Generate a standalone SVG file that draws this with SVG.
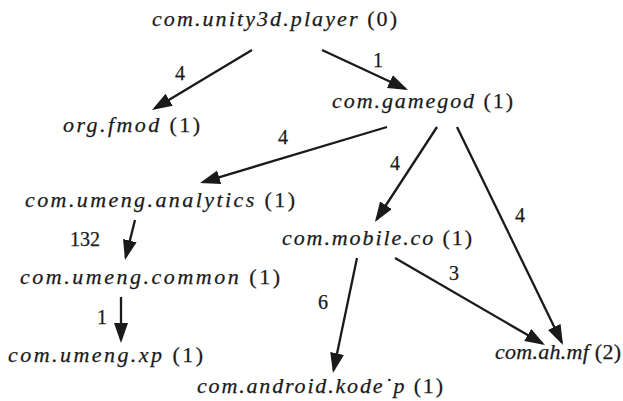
<svg xmlns="http://www.w3.org/2000/svg" width="623" height="401" viewBox="0 0 623 401">
<style>
  text { font-family: 'Liberation Serif', 'Times New Roman', serif; font-size: 22px; fill: #1a1a1a; stroke: #1a1a1a; stroke-width: 0.25; }
  .it { font-style: italic; }
  .lbl { font-size: 20px; text-anchor: middle; }
  .edge { stroke: #1a1a1a; stroke-width: 2.3; fill: none; marker-end: url(#arr); }
</style>
<defs>
  <marker id="arr" markerUnits="userSpaceOnUse" markerWidth="22" markerHeight="16" refX="17" refY="7" orient="auto">
    <path d="M0,0 L20,7 L0,14 Z" fill="#1a1a1a"/>
  </marker>
</defs>
<rect width="623" height="401" fill="#ffffff"/>
<g id="connectors">
  <line class="edge" x1="252" y1="50" x2="154.6" y2="108.5"/>
  <line class="edge" x1="322" y1="50" x2="405.3" y2="88.7"/>
  <line class="edge" x1="387" y1="127" x2="202.9" y2="182.1"/>
  <line class="edge" x1="437" y1="127" x2="376.6" y2="219.5"/>
  <line class="edge" x1="457" y1="127" x2="561.7" y2="342.3"/>
  <line class="edge" x1="135" y1="220" x2="125.7" y2="257.1"/>
  <line class="edge" x1="121" y1="297" x2="121" y2="340"/>
  <line class="edge" x1="357" y1="258" x2="333.6" y2="370.1"/>
  <line class="edge" x1="395" y1="258" x2="542.4" y2="343.5"/>
  <text class="lbl" x="180" y="80">4</text>
  <text class="lbl" x="378" y="67">1</text>
  <text class="lbl" x="283" y="144">4</text>
  <text class="lbl" x="395" y="170">4</text>
  <text class="lbl" x="520" y="222">4</text>
  <text class="lbl" x="85" y="246">132</text>
  <text class="lbl" x="102" y="324">1</text>
  <text class="lbl" x="323" y="309">6</text>
  <text class="lbl" x="454" y="280">3</text>
</g>
<g id="n-unity"><text x="152" y="26" textLength="245" lengthAdjust="spacing"><tspan class="it">com.unity3d.player</tspan> (0)</text></g>
<g id="n-fmod"><text x="63" y="132" textLength="137" lengthAdjust="spacing"><tspan class="it">org.fmod</tspan> (1)</text></g>
<g id="n-gamegod"><text x="332" y="108" textLength="181" lengthAdjust="spacing"><tspan class="it">com.gamegod</tspan> (1)</text></g>
<g id="n-analytics"><text x="25" y="207" textLength="270" lengthAdjust="spacing"><tspan class="it">com.umeng.analytics</tspan> (1)</text></g>
<g id="n-mobile"><text x="282" y="245" textLength="190" lengthAdjust="spacing"><tspan class="it">com.mobile.co</tspan> (1)</text></g>
<g id="n-common"><text x="20" y="284" textLength="260" lengthAdjust="spacing"><tspan class="it">com.umeng.common</tspan> (1)</text></g>
<g id="n-xp"><text x="8" y="362" textLength="195" lengthAdjust="spacing"><tspan class="it">com.umeng.xp</tspan> (1)</text></g>
<g id="n-kode"><text x="197" y="393" textLength="246" lengthAdjust="spacing"><tspan class="it">com.android.kode˙p</tspan> (1)</text></g>
<g id="n-ahmf"><text x="495" y="359" textLength="126" lengthAdjust="spacing"><tspan class="it">com.ah.mf</tspan> (2)</text></g>
</svg>
